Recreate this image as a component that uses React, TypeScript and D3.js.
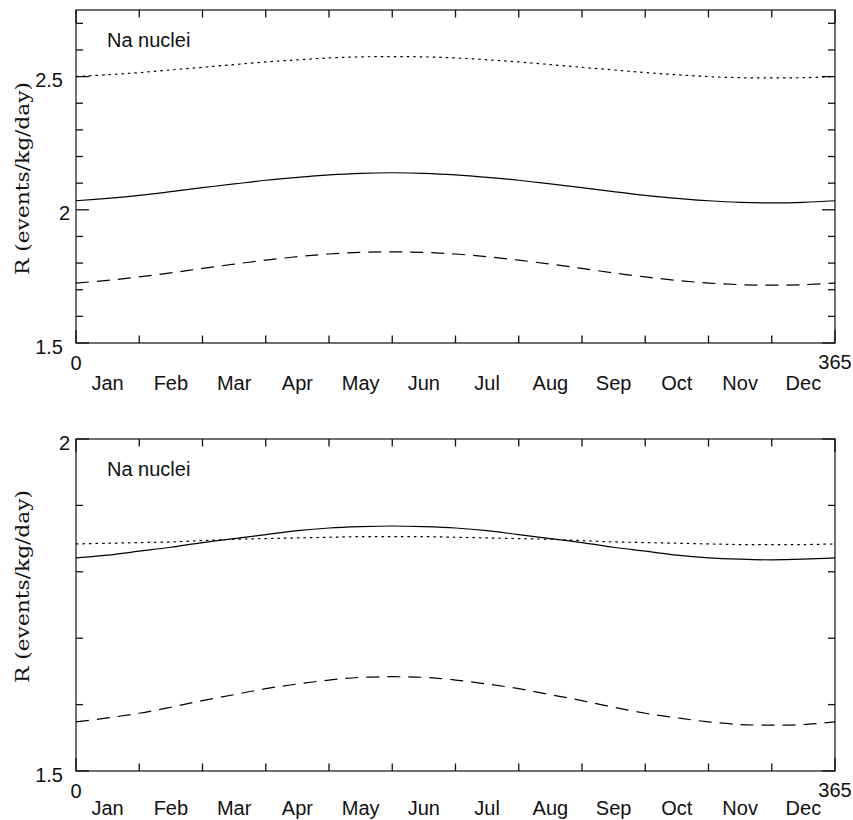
import React from "react";
import * as d3 from "d3";

// ---- data ----
const days = [0, 15.2, 30.4, 45.6, 60.8, 76.0, 91.3, 106.5, 121.7, 136.9, 152.1, 167.3, 182.5, 197.7, 212.9, 228.1, 243.3, 258.5, 273.8, 289.0, 304.2, 319.4, 334.6, 349.8, 365];

const topSolid = [2.034, 2.043, 2.054, 2.068, 2.083, 2.097, 2.111, 2.122, 2.131, 2.137, 2.139, 2.137, 2.131, 2.122, 2.111, 2.097, 2.083, 2.068, 2.054, 2.043, 2.034, 2.028, 2.026, 2.028, 2.034];
const topDotted = [2.500, 2.507, 2.515, 2.525, 2.535, 2.545, 2.555, 2.563, 2.570, 2.574, 2.575, 2.574, 2.570, 2.563, 2.555, 2.545, 2.535, 2.525, 2.515, 2.507, 2.500, 2.496, 2.495, 2.496, 2.500];
const topDashed = [1.725, 1.735, 1.748, 1.763, 1.780, 1.796, 1.811, 1.824, 1.834, 1.840, 1.842, 1.840, 1.834, 1.824, 1.811, 1.796, 1.780, 1.763, 1.748, 1.735, 1.725, 1.719, 1.717, 1.719, 1.725];

const botSolid = [1.821, 1.825, 1.831, 1.837, 1.844, 1.850, 1.856, 1.862, 1.866, 1.868, 1.869, 1.868, 1.866, 1.862, 1.856, 1.850, 1.844, 1.837, 1.831, 1.825, 1.821, 1.819, 1.818, 1.819, 1.821];
const botDotted = [1.842, 1.843, 1.844, 1.845, 1.847, 1.849, 1.850, 1.851, 1.852, 1.853, 1.853, 1.853, 1.852, 1.851, 1.850, 1.849, 1.847, 1.845, 1.844, 1.843, 1.842, 1.841, 1.841, 1.841, 1.842];
const botDashed = [1.574, 1.580, 1.587, 1.596, 1.606, 1.615, 1.624, 1.631, 1.637, 1.641, 1.642, 1.641, 1.637, 1.631, 1.624, 1.615, 1.606, 1.596, 1.587, 1.580, 1.574, 1.570, 1.569, 1.570, 1.574];

const months = ["Jan", "Feb", "Mar", "Apr", "May", "Jun", "Jul", "Aug", "Sep", "Oct", "Nov", "Dec"];
const xDomain = [0, 365];
const xEndLabels = ["0", "365"];

const topYDomain = [1.5, 2.75];
const topYTicks = [1.5, 1.6, 1.7, 1.8, 1.9, 2.0, 2.1, 2.2, 2.3, 2.4, 2.5, 2.6, 2.7];
const topYLabels = [1.5, 2, 2.5];

const botYDomain = [1.5, 2.0];
const botYTicks = [1.5, 1.6, 1.7, 1.8, 1.9, 2.0];
const botYLabels = [1.5, 2];

const panelLabel = "Na nuclei";
const yTitle = "R (events/kg/day)";

// ---- layout ----
const W = 853, H = 820;
const L = 76, R = 835;
const SANS = "'Liberation Sans', Arial, Helvetica, sans-serif";
const SERIF = "'DejaVu Serif', 'Liberation Serif', serif";
const INK = "#111";

type PanelProps = {
  top: number; bottom: number; yDomain: number[]; yTicks: number[]; yLabels: number[];
  solid: number[]; dotted: number[]; dashed: number[]; titleCenter: number; monthDy: number;
};

function Panel({ top, bottom, yDomain, yTicks, yLabels, solid, dotted, dashed, titleCenter, monthDy }: PanelProps) {
  const x = d3.scaleLinear().domain(xDomain).range([L, R]);
  const y = d3.scaleLinear().domain(yDomain).range([bottom, top]);
  const line = (vals: number[]) =>
    d3.line<number>().x((_, i) => x(days[i])).y((v) => y(v)).curve(d3.curveCatmullRom)(vals) || "";
  const monthTicks = d3.range(13).map((i) => (i * 365) / 12);
  const isMajor = (v: number) => yLabels.some((l) => Math.abs(l - v) < 1e-6);

  return (
    <g>
      <rect x={L} y={top} width={R - L} height={bottom - top} fill="none" stroke={INK} strokeWidth={1.2} />
      {yTicks.map((v, i) => {
        const len = isMajor(v) ? 13 : 7;
        return (
          <g key={"yt" + i}>
            <line x1={L} x2={L + len} y1={y(v)} y2={y(v)} stroke={INK} strokeWidth={1.3} />
            <line x1={R} x2={R - len} y1={y(v)} y2={y(v)} stroke={INK} strokeWidth={1.3} />
          </g>
        );
      })}
      {monthTicks.map((t, i) => {
        const major = i === 0 || i === 12;
        const len = major ? 13 : 7.5;
        return (
          <g key={"xt" + i}>
            <line x1={x(t)} x2={x(t)} y1={bottom} y2={bottom - len} stroke={INK} strokeWidth={1.3} />
            <line x1={x(t)} x2={x(t)} y1={top} y2={top + len} stroke={INK} strokeWidth={1.3} />
          </g>
        );
      })}
      {yLabels.map((v, i) => (
        <text key={"yl" + i} x={String(v).includes(".") ? 63 : 70} y={y(v) + 10.5} textAnchor="end"
          fontFamily={SANS} fontSize={20} fill={INK}>{String(v)}</text>
      ))}
      <text x={x(xDomain[0])} y={bottom + 27} textAnchor="middle" fontFamily={SANS} fontSize={20} fill={INK}>{xEndLabels[0]}</text>
      <text x={x(xDomain[1])} y={bottom + 26} textAnchor="middle" fontFamily={SANS} fontSize={20} fill={INK}>{xEndLabels[1]}</text>
      {months.map((m, i) => (
        <text key={m} x={x(((i + 0.5) * 365) / 12)} y={bottom + monthDy} textAnchor="middle"
          fontFamily={SANS} fontSize={20} fill={INK}>{m}</text>
      ))}
      <text x={107} y={top + 37} fontFamily={SANS} fontSize={20} fill={INK}>{panelLabel}</text>
      <text transform={`translate(29,${titleCenter}) rotate(-90)`} textAnchor="middle"
        fontFamily={SERIF} fontSize={19} fill={INK} textLength={193} lengthAdjust="spacingAndGlyphs">{yTitle}</text>
      <path d={line(dotted)} fill="none" stroke="#000" strokeWidth={1.2} strokeDasharray="2.5 4" />
      <path d={line(solid)} fill="none" stroke="#000" strokeWidth={1.2} />
      <path d={line(dashed)} fill="none" stroke="#000" strokeWidth={1.2} strokeDasharray="13 8" />
    </g>
  );
}

export default function App() {
  return (
    <svg width={W} height={H} viewBox={`0 0 ${W} ${H}`}
      style={{ position: "absolute", left: 0, top: 0, background: "#fff" }}>
      <rect x={0} y={0} width={W} height={H} fill="#fff" />
      <Panel top={10} bottom={343} yDomain={topYDomain} yTicks={topYTicks} yLabels={topYLabels}
        solid={topSolid} dotted={topDotted} dashed={topDashed} titleCenter={178.5} monthDy={47} />
      <Panel top={439} bottom={771} yDomain={botYDomain} yTicks={botYTicks} yLabels={botYLabels}
        solid={botSolid} dotted={botDotted} dashed={botDashed} titleCenter={586.5} monthDy={44} />
    </svg>
  );
}
